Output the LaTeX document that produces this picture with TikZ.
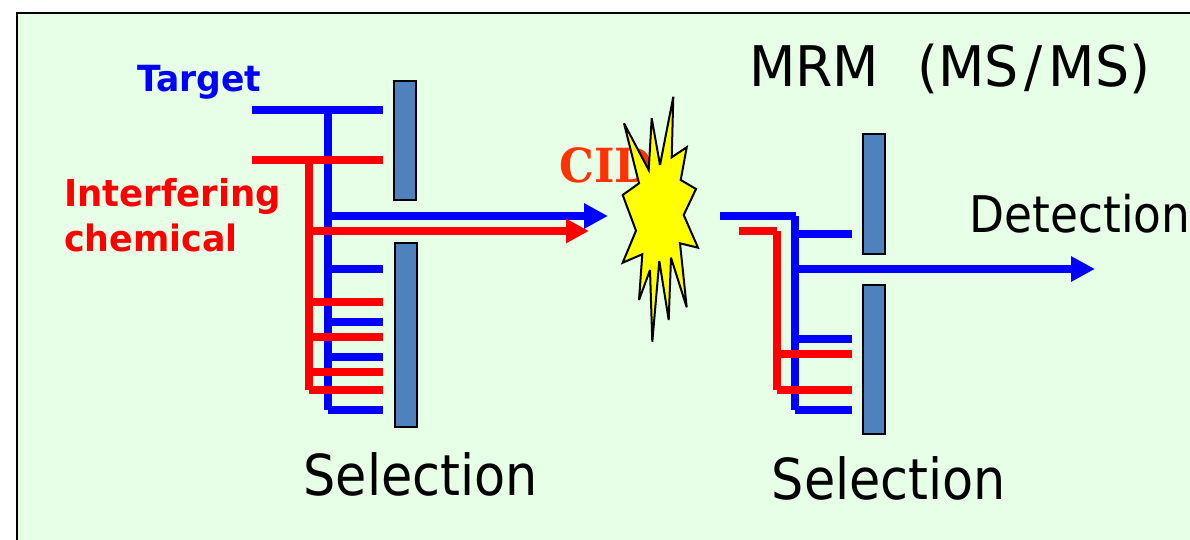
\documentclass[tikz,border=0pt]{standalone}
\usepackage{fontspec}
\setmainfont{DejaVu Sans}[FakeStretch=0.9]
\newfontfamily\mrmfont{DejaVu Sans}[FakeStretch=0.96]
\newfontfamily\boldlabel{DejaVu Sans Bold}[FakeStretch=0.96]
\newfontfamily\cidfont{DejaVu Serif Bold}[FakeStretch=0.93]
\usetikzlibrary{arrows.meta}
\definecolor{panelgreen}{HTML}{E6FFE6}
\definecolor{slitblue}{HTML}{4F81BD}
\definecolor{cidorange}{HTML}{FF3300}
\definecolor{burstyellow}{RGB}{255,255,0}
\tikzset{
  x=1pt,y=-1pt,
  bluewire/.style={draw=blue,line width=8pt},
  redwire/.style={draw=red,line width=8pt},
  bluearrow/.style={bluewire,-{Triangle[length=24pt,width=24pt]}},
  redarrow/.style={redwire,-{Triangle[length=23pt,width=23pt]}},
  slit/.style={draw=black,line width=2pt,fill=slitblue},
  burst/.style={draw=black,line width=2pt,fill=burstyellow,line join=miter,miter limit=4},
  lbl/.style={inner sep=0pt,anchor=base west},
}
\begin{document}
\begin{tikzpicture}
\useasboundingbox (0,0) rectangle (1190,540);
\fill[white] (0,0) rectangle (1190,540);
\path[fill=panelgreen,draw=black,line width=2pt] (1192,13) -- (16.5,13) -- (16.5,542) -- (1192,542) -- cycle;

% label under the burst
\node[lbl,text=cidorange] (cid) at (559.5,182.5) {\cidfont\fontsize{47}{47}\selectfont CID};

% slits
\path[slit] (393.5,81) rectangle (415.5,200);
\path[slit] (394.5,243) rectangle (416.5,427);
\path[slit] (862.5,134.5) rectangle (884.5,254);
\path[slit] (862.5,284.5) rectangle (885,434);

% left blue
\coordinate (bt0) at (252,110); \coordinate (bt1) at (383,110);
\coordinate (bv0) at (327.5,110); \coordinate (bv1) at (327.5,410);
\coordinate (bb1) at (383,410);
\coordinate (ba0) at (327.5,216); \coordinate (ba1) at (608,216);
\draw[bluewire] (bt0) -- (bt1);
\draw[bluewire] (bv0) -- (bv1);
\draw[bluewire] (bv1) -- (bb1);
\foreach \y in {269,322,357} \draw[bluewire] (327.5,\y) -- (383,\y);
\draw[bluearrow] (ba0) -- (ba1);

% left red
\coordinate (rt0) at (252,160); \coordinate (rt1) at (383,160);
\coordinate (rv0) at (309,160); \coordinate (rv1) at (309,390);
\coordinate (rb1) at (383,390);
\coordinate (ra0) at (309,231); \coordinate (ra1) at (589,231);
\draw[redwire] (rt0) -- (rt1);
\draw[redwire] (rv0) -- (rv1);
\draw[redwire] (rv1) -- (rb1);
\foreach \y in {301.5,337,372} \draw[redwire] (309,\y) -- (383,\y);
\draw[redarrow] (ra0) -- (ra1);

% burst
\path[burst] (673.3,96.7) -- (671.7,157.3) -- (686.7,147.3) -- (680.7,180) -- (696,189) -- (683.7,215) -- (698,247.7) -- (680,243.3) -- (686.7,307.3) -- (671,257.7) -- (668.7,320) -- (659.3,261) -- (652.3,341.7) -- (650,270) -- (639,300) -- (642.3,254.3) -- (622.7,262.7) -- (636,230.7) -- (622.7,195) -- (639,183.3) -- (624,123.3) -- (648.7,170) -- (651.7,118.3) -- (660,165) -- cycle;

% right blue
\coordinate (bq0) at (720,216); \coordinate (bq1) at (796,216);
\coordinate (bq2) at (795,216); \coordinate (bq3) at (795,410); \coordinate (bq4) at (851.5,410);
\draw[bluewire] (bq0) -- (bq1);
\draw[bluewire] (bq2) -- (bq3);
\draw[bluewire] (bq3) -- (bq4);
\foreach \y in {233.5,339} \draw[bluewire] (795,\y) -- (851.5,\y);
\coordinate (bd0) at (795,269); \coordinate (bd1) at (1095,269);
\draw[bluearrow] (bd0) -- (bd1);

% right red
\coordinate (rq0) at (739,231); \coordinate (rq1) at (776.5,231);
\coordinate (rq3) at (776.5,390); \coordinate (rq4) at (851.5,390);
\draw[redwire] (rq0) -- (rq1);
\draw[redwire] (rq1) -- (rq3);
\draw[redwire] (rq3) -- (rq4);
\draw[redwire] (776.5,354) -- (851.5,354);

% labels
\node[lbl,text=blue] (target) at (137,91.5) {\boldlabel\fontsize{36}{36}\selectfont Target};
\node[lbl,text=red] (interf) at (64,206.5) {\boldlabel\fontsize{37}{37}\selectfont Interfering};
\node[lbl,text=red] (chem) at (64,251.5) {\boldlabel\fontsize{36.3}{36.3}\selectfont chemical};
\node[lbl] (mrm) at (749,87) {\mrmfont\fontsize{56}{56}\selectfont MRM\hspace{38pt}(MS\hspace{6pt}/\hspace{6pt}MS)};
\node[lbl] (det) at (969.5,232.5) {\fontsize{50.5}{50.5}\selectfont Detection};
\node[lbl] (sel1) at (303.5,495) {\fontsize{56.5}{56.5}\selectfont Selection};
\node[lbl] (sel2) at (771.5,499) {\fontsize{56.5}{56.5}\selectfont Selection};
\end{tikzpicture}
\end{document}
